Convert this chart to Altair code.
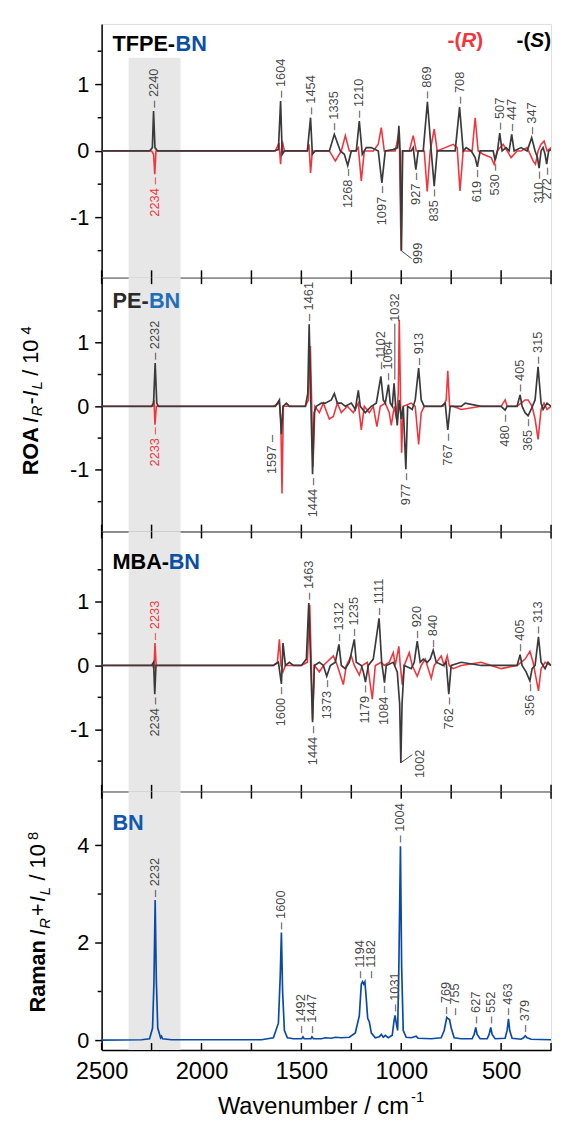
import altair as alt
import pandas as pd

FONT = "Arial, Liberation Sans, sans-serif"
RED = "#f2353d"
DARK = "#3a3a3a"
GRAYTXT = "#474747"
BLUE = "#0c4fa6"

# ---------------- data ----------------
x_ticks = [2500, 2250, 2000, 1750, 1500, 1250, 1000, 750, 500, 250]
x_labels = [2500, 2000, 1500, 1000, 500]
band_wn = [2365, 2105]

# TFPE-BN  (S = dark, R = red)
tfpe_S = [(2500,0),(2260,0),(2246,0.05),(2240,0.6),(2233,0.05),(2220,0),
          (1640,0),(1615,0.02),(1604,0.75),(1596,-0.05),(1585,0),
          (1470,0),(1454,0.5),(1445,-0.05),(1430,0),
          (1360,0),(1335,0.25),(1305,0),(1285,-0.05),(1268,-0.22),(1250,0),
          (1225,0),(1210,0.45),(1195,-0.05),(1175,0.05),(1150,0.05),(1115,0),(1097,-0.48),(1080,0),
          (1040,0.02),(1018,0.05),(1012,0.38),(1006,0),(999,-1.5),(993,0),(950,0),(940,0.05),(927,-0.28),(915,0),
          (890,0),(869,0.74),(850,0),(835,-0.53),(820,0),
          (730,0),(708,0.66),(690,0),(675,0.05),(650,0),(630,-0.1),(619,-0.24),(605,0),
          (560,0),(540,0),(530,-0.14),(518,0),(507,0.27),(495,0),(475,0.05),(460,0),(447,0.25),(435,0),
          (400,0.05),(370,0),(347,0.2),(330,0),(318,-0.1),(310,-0.26),(300,0),(290,0.05),(280,-0.05),(272,-0.2),(262,0),(250,0.02)]
tfpe_R = [(2500,0),(2250,0),(2240,-0.05),(2234,-0.35),(2228,0),(2215,0),
          (1630,0),(1612,0.12),(1604,-0.2),(1596,0.15),(1585,0),
          (1470,0),(1462,0.1),(1454,-0.33),(1445,0),
          (1360,0),(1330,-0.15),(1300,0),(1280,0.23),(1260,0),(1230,0),(1215,0.05),(1200,-0.45),(1185,0),
          (1140,0),(1115,0.1),(1100,0.35),(1085,0),(1030,0),(1010,0.3),(1001,-1.5),(994,0),
          (960,0),(940,0.23),(925,0),(885,0),(870,-0.61),(855,0),(835,0.33),(820,0),
          (780,0.05),(740,0.1),(720,0.05),(706,-0.6),(690,0),(645,0),(630,0.5),(615,0),
          (590,-0.05),(550,-0.1),(535,-0.2),(520,0),(490,0.1),(470,0),(450,-0.1),(420,0),
          (400,0),(370,0.05),(340,-0.15),(328,-0.2),(315,0),(300,0.1),(285,0.15),(270,0),(250,0.05)]

# PE-BN
pe_S = [(2500,0),(2250,0),(2240,0.05),(2232,0.68),(2224,0.05),(2215,0),
        (1630,0),(1610,0.1),(1600,-0.44),(1592,0),(1575,0.05),(1560,0),
        (1480,0),(1468,0.2),(1461,1.29),(1452,0),(1444,-1.07),(1436,-0.1),(1425,0),
        (1400,0.05),(1380,0.05),(1350,0.1),(1335,0.2),(1320,0.05),(1300,0.05),(1280,0),(1250,0.05),
        (1230,-0.05),(1215,0.25),(1205,0),(1180,-0.1),(1150,0),(1125,0.05),(1102,0.47),(1090,0.1),
        (1080,0.05),(1064,0.34),(1055,0.05),(1045,0),(1036,0.36),(1028,0),(1020,-0.3),(1010,0.1),
        (1000,-0.2),(990,0),(977,-0.99),(968,0),(945,-0.05),(930,0.1),(913,0.6),(900,0.1),(885,0),
        (800,0),(780,0.05),(767,-0.37),(755,0),(700,0),(680,0.05),(600,0),(500,0),(480,-0.06),(470,0),
        (420,0),(405,0.18),(395,0),(380,-0.1),(365,-0.15),(350,-0.05),(330,0.1),(315,0.62),(300,0.05),
        (290,-0.05),(270,0.05),(250,0)]
pe_R = [(2500,0),(2245,0),(2238,0.1),(2233,-0.29),(2226,0),(2215,0),
        (1640,0),(1610,0.05),(1603,-0.2),(1597,-1.37),(1590,0),(1575,0),
        (1480,0),(1465,0.1),(1455,0.95),(1448,0),(1442,-0.95),(1432,0),(1410,-0.1),(1390,0.05),
        (1360,-0.2),(1340,-0.16),(1320,0.05),(1300,-0.1),(1270,0),(1240,-0.1),(1215,0.05),(1200,-0.37),
        (1185,0),(1160,-0.1),(1140,0),(1122,-0.32),(1105,0),(1080,0.05),(1060,-0.1),(1050,-0.3),
        (1035,0),(1024,-0.2),(1015,0.2),(1010,1.36),(1003,0),(998,-0.73),(990,0),(950,0.05),(930,0),
        (913,-0.6),(900,-0.1),(885,0),(790,0),(775,0.1),(767,0.56),(758,0),(740,0),(700,-0.05),
        (600,0),(500,0),(480,0.1),(470,0),(420,0),(400,0.05),(380,0.1),(365,0.1),(345,0),(330,-0.2),
        (315,-0.52),(300,-0.05),(285,0.05),(270,-0.05),(250,0)]

# MBA-BN
mba_S = [(2500,0),(2250,0),(2240,0.05),(2234,-0.45),(2228,0),(2215,0),
         (1640,0),(1615,0.05),(1600,-0.29),(1592,0.35),(1580,0),(1560,0.05),(1540,0),(1500,0),
         (1475,0.1),(1463,0.98),(1453,0),(1444,-0.89),(1435,0),(1410,0.05),(1390,0),(1373,-0.17),
         (1355,0),(1330,0.05),(1312,0.33),(1300,0),(1280,-0.05),(1260,0.05),(1235,0.41),(1225,0.05),
         (1200,0),(1190,-0.1),(1179,-0.26),(1165,0),(1140,0.1),(1111,0.74),(1098,0.05),(1084,-0.27),
         (1075,0),(1040,0.05),(1020,-0.1),(1008,-0.6),(1002,-1.53),(996,-0.6),(985,0),(950,-0.05),
         (935,0.05),(920,0.38),(905,0.05),(890,0.1),(870,0.05),(855,0.1),(840,0.24),(825,0.05),
         (790,0),(775,0.05),(762,-0.45),(750,0),(700,0.05),(600,0),(500,0),(420,0),(405,0.17),
         (395,0),(375,-0.1),(356,-0.24),(345,-0.05),(330,0),(313,0.45),(300,0.05),(280,-0.05),
         (265,0.05),(250,0)]
mba_R = [(2500,0),(2245,0),(2238,-0.05),(2233,0.35),(2227,0),(2215,0),
         (1640,0),(1620,0.05),(1610,0.41),(1602,0),(1592,-0.1),(1580,0),(1500,0),(1470,0.05),
         (1458,0.95),(1450,0),(1444,-0.85),(1435,0),(1410,-0.1),(1390,0),(1340,0.15),(1320,0),
         (1290,-0.3),(1275,0),(1250,0.15),(1235,0),(1210,-0.15),(1195,0),(1170,0.05),(1145,-0.53),
         (1130,0),(1100,0.05),(1085,0),(1060,0.05),(1040,0.2),(1030,0),(1012,0.3),(1005,0),
         (995,-0.3),(985,0),(960,0.2),(945,0),(920,-0.17),(900,0),(880,0.1),(850,-0.2),(835,0),
         (800,0.15),(785,0),(770,0.15),(760,0),(740,-0.05),(700,0),(600,0.05),(500,-0.05),(420,0),
         (400,0.05),(380,0.1),(356,0.22),(340,0.05),(325,-0.2),(313,-0.4),(300,-0.05),(280,0.05),(250,0)]

# BN Raman
bn_raman = [(2500,0),(2300,0.01),(2260,0.03),(2245,0.25),(2238,1.2),(2232,2.88),(2226,1.2),(2219,0.25),
            (2205,0.05),(2200,0.08),(2195,0.03),(2150,0.01),(1700,0.01),(1640,0.05),(1615,0.35),
            (1606,1.3),(1600,2.21),(1594,1.0),(1585,0.2),(1570,0.05),(1540,0.03),(1498,0.03),
            (1492,0.07),(1486,0.03),(1452,0.03),(1447,0.07),(1440,0.03),(1400,0.03),(1380,0.05),
            (1350,0.04),(1330,0.06),(1300,0.05),(1260,0.06),(1230,0.15),(1210,0.5),(1200,1.15),
            (1194,1.2),(1188,1.15),(1182,1.2),(1176,0.9),(1168,0.45),(1160,0.38),(1150,0.15),
            (1130,0.05),(1110,0.07),(1100,0.12),(1090,0.06),(1080,0.1),(1065,0.05),(1045,0.1),
            (1036,0.4),(1031,0.51),(1025,0.35),(1018,0.2),(1012,1.5),(1004,3.98),(998,1.5),(990,0.2),
            (975,0.06),(950,0.05),(925,0.08),(915,0.04),(850,0.03),(800,0.05),(785,0.2),(772,0.47),
            (767,0.45),(758,0.42),(750,0.25),(735,0.05),(700,0.03),(645,0.03),(635,0.12),(627,0.26),
            (620,0.12),(605,0.03),(570,0.03),(560,0.12),(552,0.26),(545,0.12),(530,0.03),(480,0.04),
            (470,0.2),(463,0.44),(457,0.2),(445,0.04),(400,0.02),(388,0.05),(379,0.09),(370,0.05),
            (350,0.02),(250,0.01)]

# peak labels: (wavenumber, value at anchor, text, colour key); up = above, dn = below
tfpe_up = [(2240,0.62,"2240","g"),(1604,0.77,"1604","g"),(1454,0.52,"1454","g"),(1335,0.28,"1335","g"),
           (1210,0.47,"1210","g"),(869,0.76,"869","g"),(708,0.68,"708","g"),(507,0.29,"507","g"),
           (447,0.27,"447","g"),(347,0.22,"347","g")]
tfpe_dn = [(2234,-0.37,"2234","r"),(1268,-0.24,"1268","g"),(1097,-0.5,"1097","g"),(927,-0.3,"927","g"),
           (835,-0.55,"835","g"),(619,-0.26,"619","g"),(530,-0.16,"530","g"),(310,-0.28,"310","g"),
           (272,-0.22,"272","g")]
tfpe_plain_dn = [(918,-1.38,"999","g")]
tfpe_segs = [(1000,-1.5,948,-1.62)]

pe_up = [(2232,0.7,"2232","g"),(1461,1.31,"1461","g"),(1102,0.55,"1102","g"),(1064,0.38,"1064","g"),
         (913,0.62,"913","g"),(405,0.2,"405","g"),(315,0.64,"315","g")]
pe_dn = [(2233,-0.3,"2233","r"),(1648,-0.42,"1597","g"),(1444,-1.1,"1444","g"),(977,-1.02,"977","g"),
         (767,-0.4,"767","g"),(480,-0.1,"480","g"),(365,-0.17,"365","g")]
pe_plain_up = [(1032,1.33,"1032","g")]
pe_segs = [(1032,0.42,1032,1.3)]

mba_up = [(2233,0.37,"2233","r"),(1463,1.0,"1463","g"),(1312,0.35,"1312","g"),(1235,0.43,"1235","g"),
          (1111,0.76,"1111","g"),(920,0.4,"920","g"),(840,0.26,"840","g"),(405,0.19,"405","g"),
          (313,0.47,"313","g")]
mba_dn = [(2234,-0.47,"2234","g"),(1600,-0.31,"1600","g"),(1444,-0.92,"1444","g"),(1373,-0.2,"1373","g"),
          (1179,-0.28,"1179","g"),(1084,-0.29,"1084","g"),(762,-0.47,"762","g"),(356,-0.26,"356","g")]
mba_plain_dn = [(905,-1.32,"1002","g")]
mba_segs = [(1000,-1.52,945,-1.4)]

bn_up = [(2232,2.9,"2232","g"),(1600,2.23,"1600","g"),(1500,0.1,"1492","g"),(1446,0.1,"1447","g"),
         (1204,1.23,"1194","g"),(1153,1.23,"1182","g"),(1031,0.55,"1031","g"),(1004,4.02,"1004","g"),
         (778,0.5,"769","g"),(733,0.47,"755","g"),(627,0.3,"627","g"),(552,0.3,"552","g"),
         (463,0.47,"463","g"),(379,0.13,"379","g")]

# ---------------- layout ----------------
W = 456
H = [257, 258, 264, 262]
YDOM = [[-1.9, 1.91], [-1.97, 2.03], [-1.98, 2.1], [-0.2, 5.1]]
YMAJ = [[-1, 0, 1]] * 3 + [[0, 2, 4]]
YMIN = [[-1.5, -0.5, 0.5, 1.5]] * 3 + [[1, 3]]
COLS = {"g": GRAYTXT, "r": RED}
ONE = pd.DataFrame({"d": [0]})


def sdf(pairs):
    return pd.DataFrame(pairs, columns=["wn", "val"])


def ldf(rows):
    return pd.DataFrame([(w, v, t, COLS[c]) for w, v, t, c in rows], columns=["wn", "val", "txt", "col"])


def txt(x, y, s, size=22, weight="normal", style="normal", color="black", angle=0, align="left",
        baseline="alphabetic"):
    return alt.Chart(ONE).mark_text(text=s, fontSize=size, fontWeight=weight, fontStyle=style, font=FONT,
                                    color=color, angle=angle, align=align, baseline=baseline).encode(
        x=alt.value(x), y=alt.value(y))


def panel(i, red, dark, up, dn, plain_up=(), plain_dn=(), segs=(), extras=(), blue=None, last=False):
    h = H[i]
    xs = alt.Scale(domain=[250, 2500], reverse=True, nice=False, zero=False)
    ys = alt.Scale(domain=YDOM[i], nice=False, zero=False)
    xaxis = alt.Axis(values=x_labels, labels=last, ticks=False, domain=True, domainColor="black",
                     domainWidth=1.5, grid=False, title=None, labelFontSize=24, labelFont=FONT,
                     labelColor="black", labelPadding=10, labelFlush=False, format="d")
    yaxis = alt.Axis(values=YMAJ[i], ticks=True, tickSize=7, tickWidth=1.5, tickColor="black", domain=True,
                     domainWidth=1.5, domainColor="black", grid=False, title=None, labelFontSize=22,
                     labelFont=FONT, labelColor="black", labelPadding=6,
                     labelExpr="replace(datum.label, '\u2212', '-')")

    def X(f="wn"):
        return alt.X(f + ":Q", scale=xs, axis=xaxis)

    def Y(f="val"):
        return alt.Y(f + ":Q", scale=ys, axis=yaxis)

    layers = []
    band = pd.DataFrame({"a": [band_wn[0]], "b": [band_wn[1]], "top": [1.4]})
    if i == 0:
        layers.append(alt.Chart(band).mark_rect(color="#e7e7e7").encode(
            x=X("a"), x2="b:Q", y=Y("top"), y2=alt.value(h)))
    else:
        layers.append(alt.Chart(band).mark_rect(color="#e7e7e7").encode(
            x=X("a"), x2="b:Q", y=alt.value(0), y2=alt.value(h)))
    if red is not None:
        layers.append(alt.Chart(sdf(red)).mark_line(color=RED, strokeWidth=1.6, clip=True).encode(
            x=X(), y=Y()))
    if dark is not None:
        layers.append(alt.Chart(sdf(dark)).mark_line(color=DARK, strokeWidth=1.7, clip=True).encode(
            x=X(), y=Y()))
    if blue is not None:
        layers.append(alt.Chart(sdf(blue)).mark_line(color="#0a4aa6", strokeWidth=1.7, clip=True).encode(
            x=X(), y=Y()))
    if segs:
        sd = pd.DataFrame(segs, columns=["x1", "y1", "x2", "y2"])
        layers.append(alt.Chart(sd).mark_rule(color=GRAYTXT, strokeWidth=1).encode(
            x=X("x1"), y=Y("y1"), x2="x2:Q", y2="y2:Q"))
    lsize = 13
    if up:
        d = ldf(up)
        d["txt"] = "\u2013 " + d["txt"]
        layers.append(alt.Chart(d).mark_text(angle=270, align="left", baseline="middle", dx=2,
                                             fontSize=lsize, font=FONT).encode(
            x=X(), y=Y(), text="txt:N", color=alt.Color("col:N", scale=None)))
    if dn:
        d = ldf(dn)
        d["txt"] = d["txt"] + " \u2013"
        layers.append(alt.Chart(d).mark_text(angle=270, align="right", baseline="middle", dx=-2,
                                             fontSize=lsize, font=FONT).encode(
            x=X(), y=Y(), text="txt:N", color=alt.Color("col:N", scale=None)))
    if plain_up:
        layers.append(alt.Chart(ldf(plain_up)).mark_text(angle=270, align="left", baseline="middle",
                                                         fontSize=lsize, font=FONT).encode(
            x=X(), y=Y(), text="txt:N", color=alt.Color("col:N", scale=None)))
    if plain_dn:
        layers.append(alt.Chart(ldf(plain_dn)).mark_text(angle=270, align="right", baseline="middle",
                                                         fontSize=lsize, font=FONT).encode(
            x=X(), y=Y(), text="txt:N", color=alt.Color("col:N", scale=None)))
    # inward x ticks
    td = pd.DataFrame({"t": x_ticks})
    layers.append(alt.Chart(td).mark_rule(color="black", strokeWidth=1.5).encode(
        x=X("t"), y=alt.value(h - 7), y2=alt.value(h)))
    if i > 0:
        layers.append(alt.Chart(td).mark_rule(color="black", strokeWidth=1.5).encode(
            x=X("t"), y=alt.value(0), y2=alt.value(7)))
    # minor y ticks
    md = pd.DataFrame({"m": YMIN[i]})
    layers.append(alt.Chart(md).mark_rule(color="black", strokeWidth=1.5).encode(
        y=Y("m"), x=alt.value(-4), x2=alt.value(0)))
    layers.extend(extras)
    return alt.layer(*layers).properties(width=W, height=h)


# invisible anchor fixing the left edge of the drawing 94 px left of the plot area
anchor = alt.Chart(ONE).mark_rule(strokeOpacity=0, strokeWidth=0.1).encode(
    x=alt.value(-94), x2=alt.value(-93), y=alt.value(20))

ex1 = [txt(11, 27, "TFPE-", weight="bold"), txt(75, 27, "BN", weight="bold", color=BLUE),
       txt(351, 23, "-(", size=21, weight="bold", color=RED),
       txt(365, 23, "R", size=21, weight="bold", style="italic", color=RED),
       txt(380, 23, ")", size=21, weight="bold", color=RED),
       txt(421, 23, "-(", size=21, weight="bold"),
       txt(435, 23, "S", size=21, weight="bold", style="italic"),
       txt(449, 23, ")", size=21, weight="bold")]
ex2 = [anchor,
       txt(11, 31, "PE-", weight="bold", color="#2a2a2a"), txt(48, 31, "BN", weight="bold", color="#1f6fb8"),
       txt(-65, 201, "ROA", weight="bold", angle=270),
       txt(-65, 148, "I", style="italic", angle=270),
       txt(-60, 141, "R", size=15, style="italic", angle=270),
       txt(-65, 129, "-", angle=270),
       txt(-65, 121, "I", style="italic", angle=270),
       txt(-60, 114, "L", size=15, style="italic", angle=270),
       txt(-65, 100, "/ 10", angle=270),
       txt(-72, 58, "4", size=15, angle=270)]
ex3 = [txt(11, 38, "MBA-", weight="bold"), txt(68, 38, "BN", weight="bold", color=BLUE)]
ex4 = [txt(11, 39, "BN", weight="bold", color="#1258ad"),
       txt(-57, 224, "Raman", weight="bold", angle=270),
       txt(-57, 146, "I", style="italic", angle=270),
       txt(-52, 139, "R", size=15, style="italic", angle=270),
       txt(-57, 126, "+", angle=270),
       txt(-57, 112, "I", style="italic", angle=270),
       txt(-52, 105, "L", size=15, style="italic", angle=270),
       txt(-57, 90, "/ 10", angle=270),
       txt(-65, 49, "8", size=15, angle=270),
       txt(118, 327, "Wavenumber / cm", size=24),
       txt(314, 315, "-1", size=15)]

p1 = panel(0, tfpe_R, tfpe_S, tfpe_up, tfpe_dn, plain_dn=tfpe_plain_dn, segs=tfpe_segs, extras=ex1)
p2 = panel(1, pe_R, pe_S, pe_up, pe_dn, plain_up=pe_plain_up, segs=pe_segs, extras=ex2)
p3 = panel(2, mba_R, mba_S, mba_up, mba_dn, plain_dn=mba_plain_dn, segs=mba_segs, extras=ex3)
p4 = panel(3, None, None, bn_up, [], extras=ex4, blue=bn_raman, last=True)

chart = alt.vconcat(p1, p2, p3, p4, spacing=0, bounds="flush").properties(
    padding={"left": 0, "top": 7, "right": 0, "bottom": 0}
).configure_view(stroke=None).configure(background="white")

chart.save("out.html", embed_options={"renderer": "svg", "actions": False})
